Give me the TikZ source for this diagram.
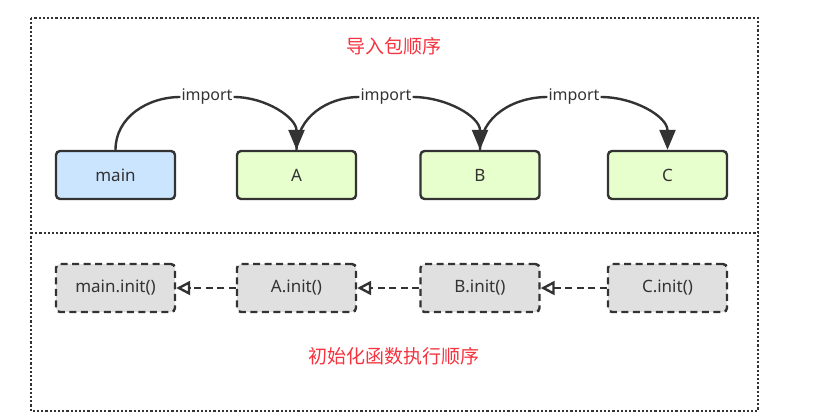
\documentclass[tikz,border=0pt]{standalone}
\usepackage{fontspec}
\setmainfont{Noto Sans}
\newfontfamily\cjk{Noto Sans CJK SC}
\usetikzlibrary{arrows.meta}
\definecolor{edge}{HTML}{333333}
\definecolor{bluefill}{HTML}{CCE5FF}
\definecolor{greenfill}{HTML}{E6FFCC}
\definecolor{grayfill}{HTML}{E0E0E0}
\definecolor{redtxt}{HTML}{F5333F}
\tikzset{
  pkg/.style={draw=edge, line width=2.4pt, rounded corners=4pt, minimum width=119pt, minimum height=48pt, font=\fontsize{17}{20}\selectfont, text=edge},
  initbox/.style={pkg, fill=grayfill, dash pattern=on 7pt off 4.5pt},
  frame/.style={line width=2.2pt, dash pattern=on 2.2pt off 2pt, draw=edge},
  implabel/.style={fill=white, inner sep=1pt, font=\fontsize{16}{18}\selectfont, text=edge},
  conn/.style={draw=edge, line width=2.4pt},
  imparrow/.style={conn, -{Triangle[length=20pt,width=16pt]}},
  initarrow/.style={conn, dash pattern=on 7pt off 4.5pt, -{Triangle[open,length=14pt,width=14pt]}},
  title/.style={text=redtxt, font=\cjk\fontsize{19}{22}\selectfont}
}
\begin{document}
\begin{tikzpicture}[x=1pt,y=-1pt]
\useasboundingbox (0,0) rectangle (824,418);
\coordinate (fTL) at (31,18);
\coordinate (fBR) at (758,411);
\coordinate (dL) at (31,233);
\coordinate (dR) at (758,233);
\draw[frame] (fTL) rectangle (fBR);
\draw[frame] (dL) -- (dR);
\node[title] (t1) at (394,46) {导入包顺序};
\node[title] (t2) at (394,356) {初始化函数执行顺序};
\node[pkg, fill=bluefill] (main) at (115.5,175) {main};
\node[pkg, fill=greenfill] (A) at (296.5,175) {A};
\node[pkg, fill=greenfill] (B) at (480,175) {B};
\node[pkg, fill=greenfill] (C) at (667.5,175) {C};
\node[initbox] (mi) at (115.5,288) {main.init()};
\node[initbox] (ai) at (296.5,288) {A.init()};
\node[initbox] (bi) at (480,288) {B.init()};
\node[initbox] (ci) at (667.5,288) {C.init()};
\node[implabel] (l1) at (207,97) {import};
\node[implabel] (l2) at (386,97) {import};
\node[implabel] (l3) at (574,97) {import};
\draw[conn] (main.north) to[out=90,in=180] (l1.west);
\draw[imparrow] (l1.east) to[out=0,in=90] (A.north);
\draw[conn] (A.north) to[out=90,in=180] (l2.west);
\draw[imparrow] (l2.east) to[out=0,in=90] (B.north);
\draw[conn] (B.north) to[out=90,in=180] (l3.west);
\draw[imparrow] (l3.east) to[out=0,in=90] (C.north);
\draw[initarrow] (ai.west) -- (mi.east);
\draw[initarrow] (bi.west) -- (ai.east);
\draw[initarrow] (ci.west) -- (bi.east);
\end{tikzpicture}
\end{document}
